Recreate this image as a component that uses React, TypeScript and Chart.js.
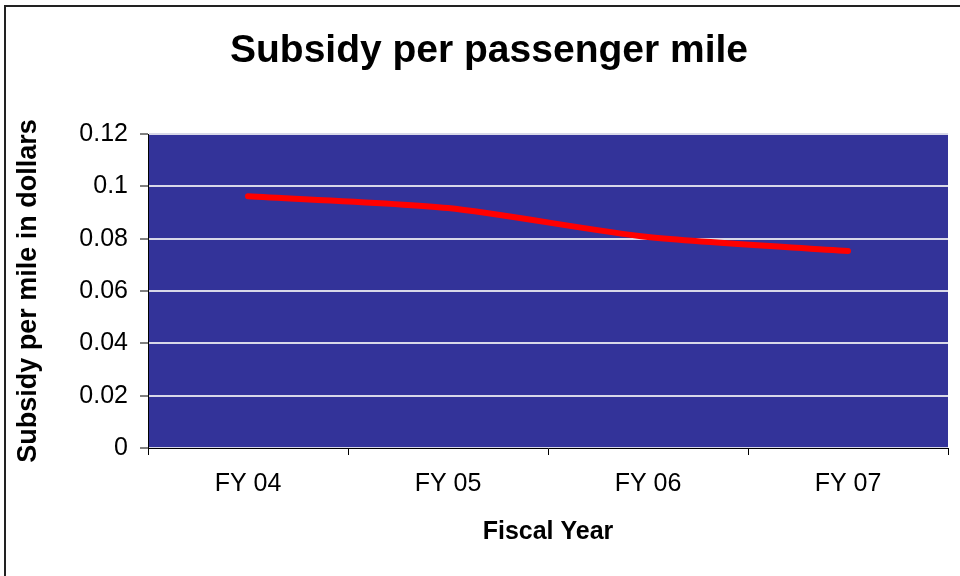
import React, { useEffect, useRef } from "react";
import { Chart, registerables } from "chart.js";

Chart.register(...registerables);

const categories = ["FY 04", "FY 05", "FY 06", "FY 07"];
const subsidyPerMile = [0.0962, 0.0917, 0.0806, 0.0753];
const yTicks = [0, 0.02, 0.04, 0.06, 0.08, 0.1, 0.12];

const chartTitle = "Subsidy per passenger mile";
const xTitle = "Fiscal Year";
const yTitle = "Subsidy per mile in dollars";

const FONT = "'Liberation Sans', Arial, sans-serif";

// Frame, plot background and the centred heading
const decorPlugin = {
  id: "decor",
  beforeDraw(chart: any) {
    const { ctx, chartArea } = chart;
    ctx.save();
    ctx.fillStyle = "#ffffff";
    ctx.fillRect(0, 0, chart.width, chart.height);
    ctx.fillStyle = "#333399";
    ctx.fillRect(
      chartArea.left,
      chartArea.top,
      chartArea.right - chartArea.left,
      chartArea.bottom - chartArea.top
    );
    ctx.strokeStyle = "#222222";
    ctx.lineWidth = 2;
    ctx.beginPath();
    ctx.moveTo(5, chart.height + 2);
    ctx.lineTo(5, 6);
    ctx.lineTo(chart.width + 2, 6);
    ctx.stroke();
    ctx.restore();
  },
  afterDraw(chart: any) {
    const { ctx } = chart;
    ctx.save();
    ctx.fillStyle = "#000000";
    ctx.font = `bold 39px ${FONT}`;
    ctx.textAlign = "center";
    ctx.textBaseline = "middle";
    ctx.fillText(chartTitle, 489, 51);
    ctx.restore();
  },
};

export default function App() {
  const canvasRef = useRef<HTMLCanvasElement | null>(null);

  useEffect(() => {
    if (!canvasRef.current) return;
    const chart = new Chart(canvasRef.current, {
      type: "line",
      data: {
        labels: categories,
        datasets: [
          {
            data: subsidyPerMile,
            borderColor: "#ff0000",
            borderWidth: 6,
            borderCapStyle: "round",
            borderJoinStyle: "round",
            pointRadius: 0,
            tension: 0.25,
            fill: false,
          },
        ],
      },
      options: {
        animation: false,
        responsive: true,
        maintainAspectRatio: false,
        layout: { padding: { left: 0, right: 12, top: 134, bottom: 0 } },
        plugins: {
          legend: { display: false },
          tooltip: { enabled: false },
          title: { display: false },
        },
        scales: {
          x: {
            type: "category",
            offset: true,
            afterFit(scale: any) {
              scale.height = 128;
            },
            grid: {
              offset: true,
              drawOnChartArea: false,
              drawTicks: true,
              tickLength: 7,
              tickColor: "#000000",
              tickWidth: 1,
            },
            border: { display: true, color: "#000000", width: 1 },
            ticks: {
              color: "#000000",
              font: { family: FONT, size: 25 },
              padding: 14,
              maxRotation: 0,
            },
            title: {
              display: true,
              text: xTitle,
              color: "#000000",
              font: { family: FONT, size: 25, weight: "bold" },
              padding: { top: 0, bottom: 29 },
            },
          },
          y: {
            min: 0,
            max: 0.12,
            afterFit(scale: any) {
              scale.width = 148;
            },
            afterBuildTicks(scale: any) {
              scale.ticks = yTicks.map((v) => ({ value: v }));
            },
            grid: {
              color: "#d8d8e8",
              lineWidth: 2,
              drawTicks: true,
              tickLength: 8,
              tickColor: "#000000",
              tickWidth: 1,
            },
            border: { display: true, color: "#000000", width: 1 },
            ticks: {
              color: "#000000",
              font: { family: FONT, size: 25 },
              padding: 12,
              callback: (v: any) => String(Number(v)),
            },
            title: {
              display: true,
              text: yTitle,
              color: "#000000",
              font: { family: FONT, size: 27, weight: "bold" },
              padding: { top: 12, bottom: 0 },
            },
          },
        },
      },
      plugins: [decorPlugin],
    });
    return () => chart.destroy();
  }, []);

  return (
    <div
      style={{
        position: "fixed",
        left: 0,
        top: 0,
        width: 960,
        height: 576,
        background: "#ffffff",
      }}
    >
      <canvas ref={canvasRef} />
    </div>
  );
}
